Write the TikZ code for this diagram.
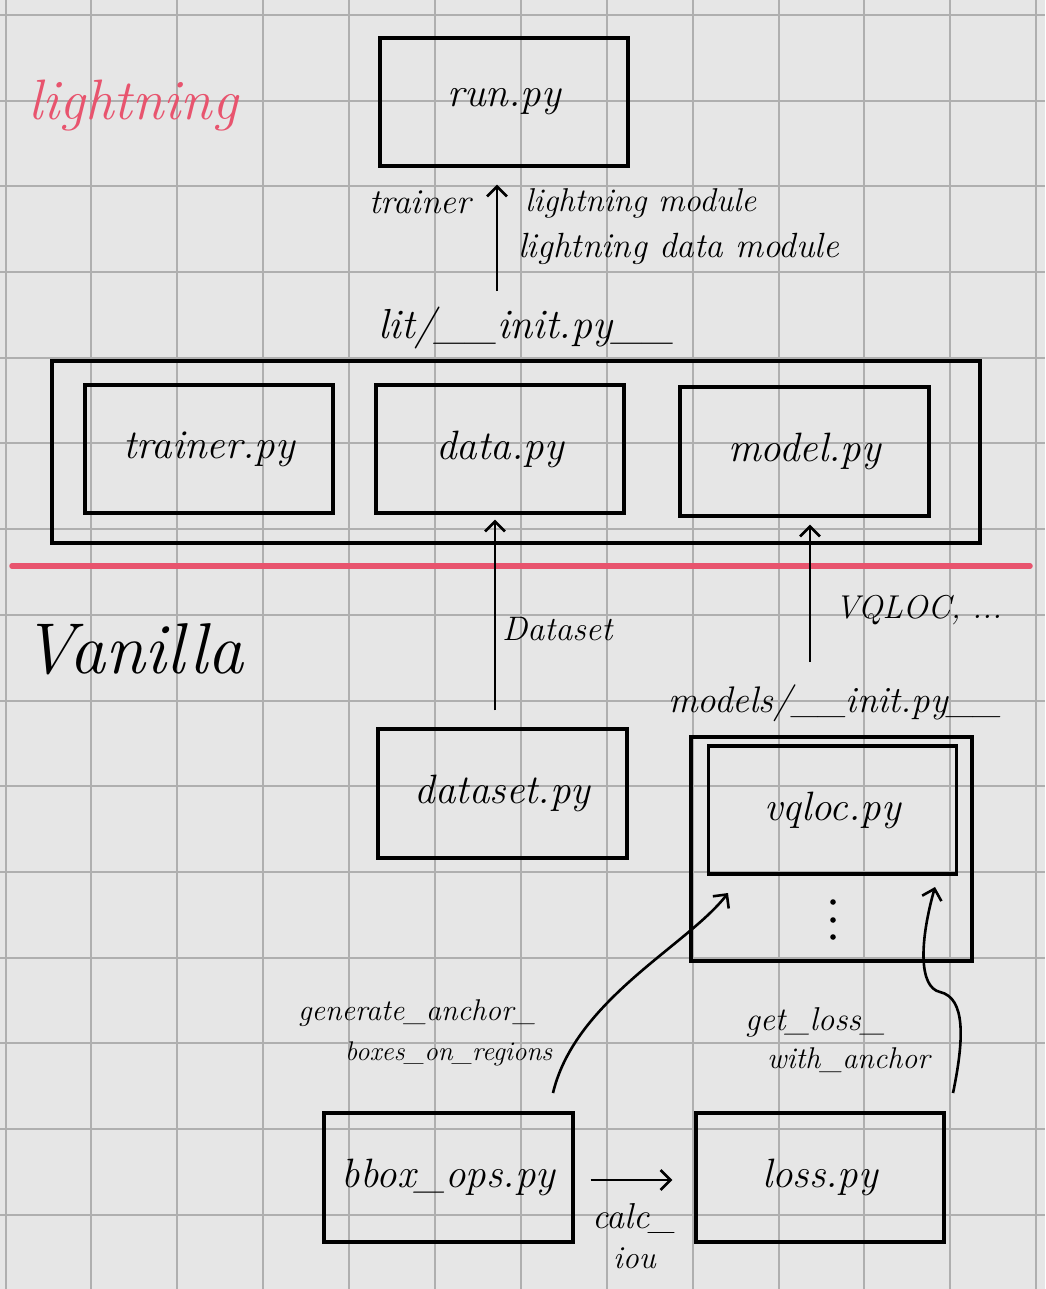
\documentclass[tikz,border=0pt]{standalone}
\usepackage{fontspec}
\usetikzlibrary{arrows.meta}
\definecolor{paper}{HTML}{E6E6E6}
\definecolor{gridc}{HTML}{AFAFAF}
\definecolor{pinkred}{HTML}{E8546E}
\newcommand{\hw}[1]{\fontsize{#1}{#1}\selectfont\itshape}
\begin{document}
\begin{tikzpicture}[x=1pt,y=-1pt,
  box/.style={draw, line width=3.2pt, minimum width=248pt, minimum height=128pt, inner sep=0pt, font=\hw{41}},
  frame/.style={draw, line width=3.2pt, inner sep=0pt},
  lbl/.style={inner sep=0pt, anchor=base west},
  arr/.style={line width=2.6pt, -{Straight Barb[length=10pt,width=20pt]}},
]
\fill[paper] (0,0) rectangle (1045,1289);
\useasboundingbox (0,0) rectangle (1045,1289);
\foreach \i in {0,...,12} \draw[gridc, line width=1.6pt] ({round(5.5+85.9*\i)},0) -- ({round(5.5+85.9*\i)},1289);
\foreach \j in {0,...,14} \draw[gridc, line width=1.6pt] (0,{round(15+85.7*\j)}) -- (1045,{round(15+85.7*\j)});

% boxes
\node[box] (run) at (504,102) {run.py};
\node[frame, minimum width=928pt, minimum height=182pt] (lit) at (516,452) {};
\node[box] (trainer) at (209,449) {trainer.py};
\node[box] (data) at (500,449) {data.py};
\node[box, minimum width=249pt, minimum height=129pt] (model) at (804.5,451.5) {model.py};
\node[box, minimum width=249pt, minimum height=129pt] (dataset) at (502.5,793.5) {dataset.py};
\node[frame, minimum width=281pt, minimum height=224pt] (models) at (831.5,849) {};
\node[box] (vqloc) at (832.5,810) {vqloc.py};
\node[box, minimum width=249pt, minimum height=129pt] (bbox) at (448.5,1177.5) {bbox\_ops.py};
\node[box, minimum width=248pt, minimum height=129pt] (loss) at (820,1177.5) {loss.py};

% separator
\draw[pinkred, line width=5.5pt, line cap=round] (12,566) -- (1030,566);

% labels
\node[lbl, font=\hw{57}, text=pinkred] (tlight) at (28,120) {lightning};
\node[lbl, font=\hw{72}] (tvan) at (22,673) {Vanilla};
\node[lbl, anchor=base east, font=\hw{35}] (ttrainer) at (471,214) {trainer};
\node[lbl, font=\hw{33}] (tlm) at (525,212) {lightning module};
\node[lbl, font=\hw{35}] (tldm) at (518,258) {lightning data module};
\node[lbl, font=\hw{42}] (tlit) at (378,338) {lit/\_\_init.py\_\_};
\node[lbl, font=\hw{34}] (tds) at (502,640) {Dataset};
\node[lbl, font=\hw{33}] (tvq) at (835,618) {VQLOC, ...};
\node[lbl, font=\hw{37}] (tmodels) at (668,712) {models/\_\_init.py\_\_};
\node[lbl, font=\hw{30}] (tgen1) at (298,1020) {generate\_anchor\_};
\node[lbl, font=\hw{27}] (tgen2) at (345,1060) {boxes\_on\_regions};
\node[lbl, font=\hw{33}] (tget1) at (745,1030) {get\_loss\_};
\node[lbl, font=\hw{30}] (tget2) at (767,1068) {with\_anchor};
\node[lbl, font=\hw{36}] (tcalc) at (592,1228) {calc\_};
\node[lbl, font=\hw{32}] (tiou) at (613,1268) {iou};

% vertical dots
\foreach \yy in {902,920,937} \fill (833,\yy) circle (2.8pt);

% connectors
\coordinate (a1s) at (497,291);
\draw[arr, shorten >=17pt] (a1s) -- (a1s |- run.south);
\draw[arr, shorten <=17pt, shorten >=5pt] ([xshift=-7.5pt]dataset.north) -- ([xshift=-5pt]data.south);
\coordinate (a3s) at (810,662);
\draw[arr, shorten >=7pt] (a3s) -- (a3s |- model.south);
\draw[arr, shorten <=16pt, shorten >=22pt] ([yshift=-2.5pt]bbox.east) -- ([yshift=-2.5pt]bbox.east -| loss.west);
\coordinate (c1s) at (553,1093);
\coordinate (c1e) at (728,893);
\draw[arr] (c1s) .. controls (575,1000) and (688,945) .. (c1e);
\coordinate (c2s) at (953,1093);
\coordinate (c2e) at (935,887);
\draw[arr] (c2s) .. controls (964,1040) and (966,998) .. (940,992) .. controls (918,987) and (920,940) .. (c2e);
\end{tikzpicture}
\end{document}
